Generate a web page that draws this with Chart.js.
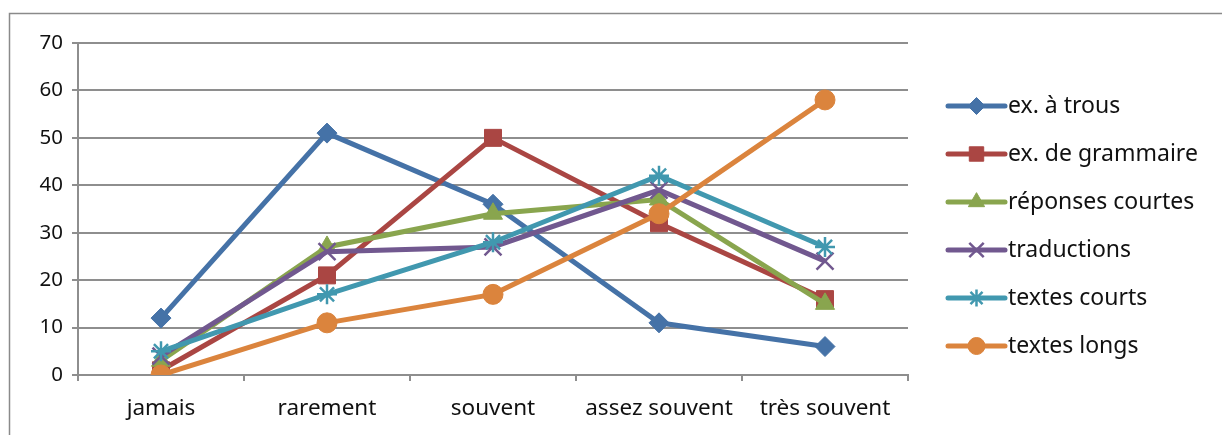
<!DOCTYPE html>
<html>
<head>
<meta charset="utf-8">
<script src="https://cdn.jsdelivr.net/npm/chart.js@4.4.0/dist/chart.umd.min.js"></script>
<style>
  html, body { margin: 0; padding: 0; background: #ffffff; }
  #wrap { width: 1222px; height: 435px; position: relative; }
</style>
</head>
<body>
<div id="wrap"><canvas id="c" width="1222" height="435"></canvas></div>
<script>
// Fréquence des types d'exercices
const categories = ['jamais', 'rarement', 'souvent', 'assez souvent', 'très souvent'];
const exATrous        = [12, 51, 36, 11, 6];
const exGrammaire     = [1, 21, 50, 32, 16];
const reponsesCourtes = [3, 27, 34, 37, 15];
const traductions     = [4, 26, 27, 39, 24];
const textesCourts    = [5, 17, 28, 42, 27];
const textesLongs     = [0, 11, 17, 34, 58];
const yTicks = [0, 10, 20, 30, 40, 50, 60, 70];

const FONT = '"Noto Sans", "Open Sans", sans-serif';
const GRID = '#8e8e8e';
const TEXT = '#111111';

const series = [
  { label: 'ex. à trous',        data: exATrous,        color: '#4572A7', style: 'rectRot',  r: 10 },
  { label: 'ex. de grammaire',   data: exGrammaire,     color: '#AA4643', style: 'rect',     r: 12 },
  { label: 'réponses courtes',   data: reponsesCourtes, color: '#89A54E', style: 'triangle', r: 11 },
  { label: 'traductions',        data: traductions,     color: '#71588F', style: 'crossRot', r: 12 },
  { label: 'textes courts',      data: textesCourts,    color: '#4198AF', style: 'star',     r: 10 },
  { label: 'textes longs',       data: textesLongs,     color: '#DB843D', style: 'circle',   r: 10 }
];

const thinMarker = s => s.style === 'crossRot' || s.style === 'star';

const datasets = series.map((s, i) => ({
  label: s.label,
  data: s.data,
  borderColor: s.color,
  backgroundColor: s.color,
  borderWidth: 5,
  pointStyle: s.style,
  pointRadius: s.r,
  pointHoverRadius: s.r,
  pointBorderWidth: thinMarker(s) ? 2.5 : 1,
  pointBorderColor: s.color,
  pointBackgroundColor: s.color,
  tension: 0,
  order: series.length - 1 - i   // later series drawn on top
}));

// outer frame of the chart
const framePlugin = {
  id: 'frame',
  beforeDraw(chart) {
    const ctx = chart.ctx;
    ctx.save();
    ctx.fillStyle = '#ffffff';
    ctx.fillRect(0, 0, chart.width, chart.height);
    ctx.strokeStyle = '#8a8a8a';
    ctx.lineWidth = 1.5;
    ctx.strokeRect(9.5, 13.5, chart.width + 20, chart.height + 20);
    ctx.restore();
  }
};

// legend on the right: line segment with its marker, then the label
const legendPlugin = {
  id: 'lineLegend',
  afterDraw(chart) {
    const ctx = chart.ctx;
    const area = chart.chartArea;
    const x0 = area.right + 40;
    const x1 = x0 + 57;
    const y0 = area.top + 63;
    const step = 48;
    ctx.save();
    chart.data.datasets.forEach((ds, i) => {
      const y = y0 + i * step;
      ctx.strokeStyle = ds.borderColor;
      ctx.lineWidth = 5;
      ctx.lineCap = 'round';
      ctx.beginPath();
      ctx.moveTo(x0, y);
      ctx.lineTo(x1, y);
      ctx.stroke();
      ctx.lineCap = 'butt';
      ctx.fillStyle = ds.backgroundColor;
      ctx.strokeStyle = ds.borderColor;
      ctx.lineWidth = ds.pointBorderWidth;
      Chart.helpers.drawPoint(ctx, {
        pointStyle: ds.pointStyle,
        radius: ds.pointRadius * 0.85,
        rotation: 0,
        borderWidth: ds.pointBorderWidth
      }, (x0 + x1) / 2, y);
      ctx.fillStyle = TEXT;
      ctx.font = '23px ' + FONT;
      ctx.textAlign = 'left';
      ctx.textBaseline = 'middle';
      ctx.fillText(ds.label, x1 + 3, y);
    });
    ctx.restore();
  }
};

new Chart(document.getElementById('c'), {
  type: 'line',
  data: { labels: categories, datasets },
  plugins: [framePlugin, legendPlugin],
  options: {
    responsive: false,
    animation: false,
    devicePixelRatio: 1,
    layout: { padding: { top: 43, right: 314, bottom: 0, left: 0 } },
    plugins: {
      legend: { display: false },
      tooltip: { enabled: false }
    },
    scales: {
      x: {
        type: 'category',
        offset: true,
        grid: {
          offset: true,
          drawOnChartArea: false,
          drawTicks: true,
          tickLength: 6,
          color: GRID,
          lineWidth: 2
        },
        border: { display: true, color: GRID, width: 2 },
        ticks: {
          color: TEXT,
          font: { family: FONT, size: 22.5 },
          padding: 14,
          maxRotation: 0,
          autoSkip: false
        },
        afterFit(scale) { scale.height = 60; }
      },
      y: {
        min: 0,
        max: 70,
        afterBuildTicks(scale) { scale.ticks = yTicks.map(v => ({ value: v })); },
        grid: {
          color: GRID,
          lineWidth: 2,
          drawTicks: true,
          tickLength: 6
        },
        border: { display: true, color: GRID, width: 2 },
        ticks: {
          color: TEXT,
          font: { family: FONT, size: 20.5 },
          padding: 9
        },
        afterFit(scale) { scale.width = 78; }
      }
    }
  }
});
</script>
</body>
</html>
